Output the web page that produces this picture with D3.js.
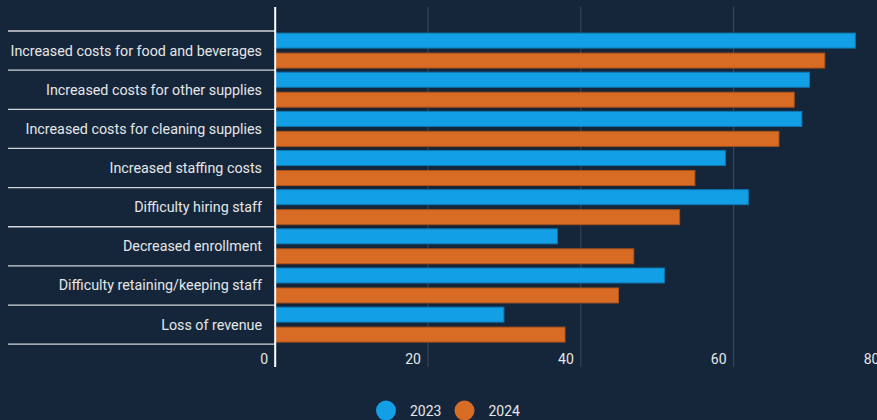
<!DOCTYPE html>
<html>
<head>
<meta charset="utf-8">
<script src="https://cdn.jsdelivr.net/npm/d3@7"></script>
<style>
  html, body { margin: 0; padding: 0; background: #16263a; overflow: hidden; }
  svg { display: block; }
  text { font-family: Roboto, "Noto Sans", sans-serif; }
</style>
</head>
<body>
<svg id="chart" width="877" height="420"></svg>
<script>
// Share of respondents reporting each challenge, by survey year
const categories = [
  "Increased costs for food and beverages",
  "Increased costs for other supplies",
  "Increased costs for cleaning supplies",
  "Increased staffing costs",
  "Difficulty hiring staff",
  "Decreased enrollment",
  "Difficulty retaining/keeping staff",
  "Loss of revenue"
];
const seriesNames = ["2023", "2024"];
const values2023 = [76, 70, 69, 59, 62, 37, 51, 30];
const values2024 = [72, 68, 66, 55, 53, 47, 45, 38];
const xTicks = [0, 20, 40, 60, 80];

const colors = { "2023": "#129fe5", "2024": "#d96c24" };
const strokes = { "2023": "#0d78b3", "2024": "#a9521b" };

const svg = d3.select("#chart");

// the value axis runs on past the right edge of the view
const x = d3.scaleLinear().domain([0, 80]).range([275.2, 886.4]);
const y = d3.scaleBand().domain(categories).range([31, 344.2]);
const ySub = d3.scaleBand().domain(seriesNames).range([0, y.bandwidth()])
  .paddingInner(0.2).paddingOuter(0.08);

const axisTop = 7, axisBottom = 367;

// vertical gridlines
svg.append("g").selectAll("line")
  .data(xTicks.filter(d => d > 0))
  .join("line")
  .attr("x1", d => x(d)).attr("x2", d => x(d))
  .attr("y1", axisTop).attr("y2", axisBottom)
  .attr("stroke", "#ffffff").attr("stroke-opacity", 0.16).attr("stroke-width", 1);

// row separators
const bounds = categories.map(c => y(c)).concat([y.range()[1]]);
svg.append("g").selectAll("line")
  .data(bounds)
  .join("line")
  .attr("x1", 8).attr("x2", x(0))
  .attr("y1", d => d).attr("y2", d => d)
  .attr("stroke", "#d2d6da").attr("stroke-width", 1.3);

// bars
const rows = categories.map((c, i) => ({ c, "2023": values2023[i], "2024": values2024[i] }));
const g = svg.append("g");
rows.forEach(r => {
  seriesNames.forEach(s => {
    g.append("rect")
      .attr("x", x(0) + 0.5)
      .attr("y", y(r.c) + ySub(s) + 0.5)
      .attr("width", Math.max(0, x(r[s]) - x(0) - 1))
      .attr("height", ySub.bandwidth() - 1)
      .attr("fill", colors[s])
      .attr("stroke", strokes[s])
      .attr("stroke-width", 1);
  });
});

// category labels
svg.append("g").selectAll("text")
  .data(categories)
  .join("text")
  .attr("x", 262)
  .attr("y", d => y(d) + y.bandwidth() / 2)
  .attr("text-anchor", "end")
  .attr("dominant-baseline", "central")
  .attr("font-size", 14.3)
  .attr("fill", "#e4e6e8")
  .text(d => d);

// x tick labels
svg.append("g").selectAll("text")
  .data(xTicks)
  .join("text")
  .attr("x", d => x(d) - 7)
  .attr("y", 359)
  .attr("text-anchor", "end")
  .attr("dominant-baseline", "central")
  .attr("font-size", 14)
  .attr("fill", "#e4e6e8")
  .text(d => d);

// zero axis line
svg.append("line")
  .attr("x1", x(0)).attr("x2", x(0))
  .attr("y1", axisTop).attr("y2", axisBottom)
  .attr("stroke", "#ffffff").attr("stroke-width", 2);

// legend
const legend = svg.append("g");
const legendItems = [
  { name: "2023", cx: 386, tx: 410 },
  { name: "2024", cx: 464.5, tx: 488.5 }
];
legend.selectAll("circle")
  .data(legendItems)
  .join("circle")
  .attr("cx", d => d.cx).attr("cy", 410.5).attr("r", 10)
  .attr("fill", d => colors[d.name]);
legend.selectAll("text")
  .data(legendItems)
  .join("text")
  .attr("x", d => d.tx).attr("y", 410.5)
  .attr("dominant-baseline", "central")
  .attr("font-size", 14)
  .attr("fill", "#e4e6e8")
  .text(d => d.name);
</script>
</body>
</html>
